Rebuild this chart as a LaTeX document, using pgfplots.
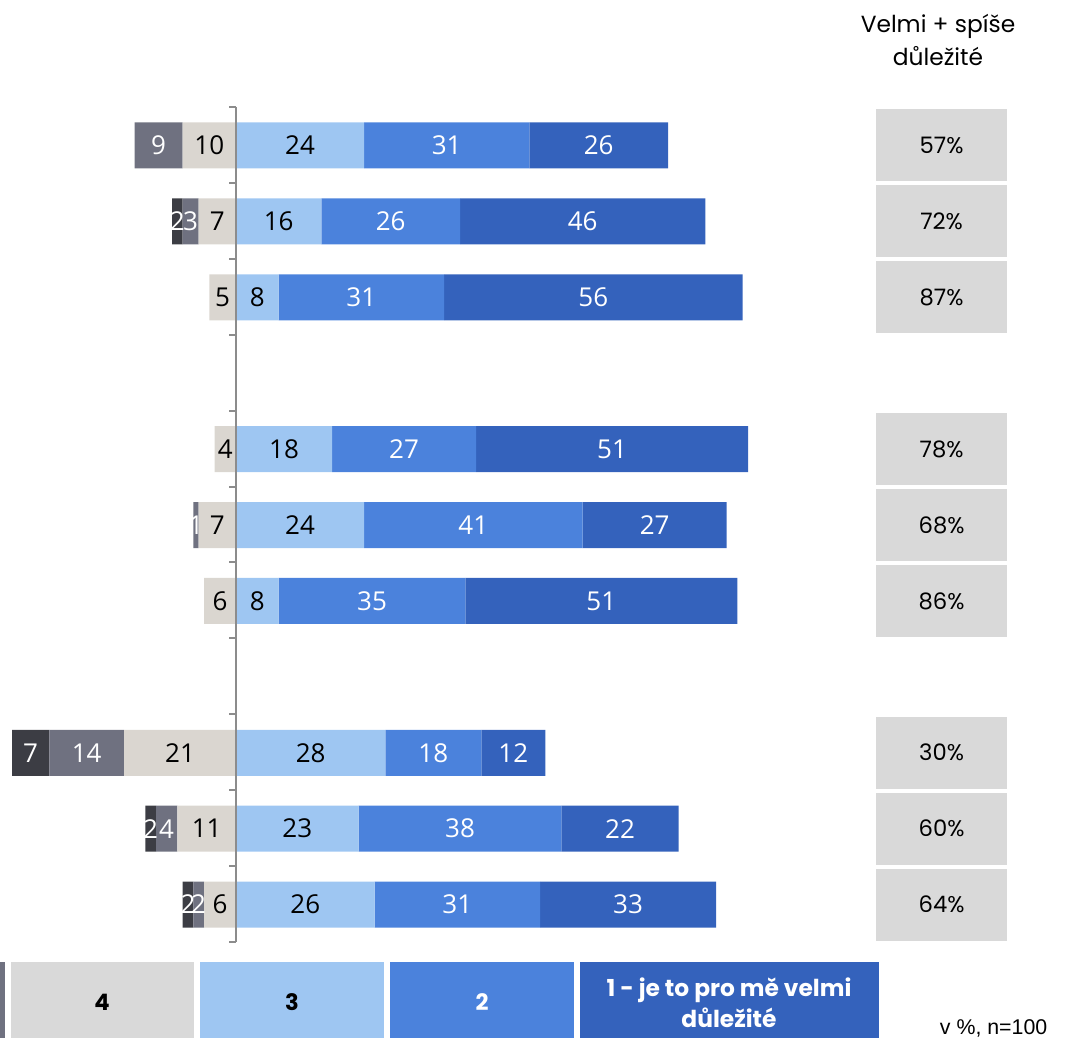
\documentclass[border=0pt]{standalone}
\usepackage{pgfplots}
\pgfplotsset{compat=1.18}
\usepackage{pgfplotstable}
\usepackage{fontspec}
\setmainfont{Poppins}
\newfontfamily\barfont{Open Sans}
\newfontfamily\pop{Poppins}
\newfontfamily\arialf{Liberation Sans}

\definecolor{cD6}{HTML}{3C3D44}
\definecolor{cD5}{HTML}{6F7180}
\definecolor{cD4}{HTML}{DAD6D0}
\definecolor{cC3}{HTML}{9EC6F2}
\definecolor{cC2}{HTML}{4B82DC}
\definecolor{cC1}{HTML}{3462BC}
\definecolor{boxgray}{HTML}{D9D9D9}
\definecolor{axisgray}{HTML}{8C8C8C}

\pgfplotstableread{
y  d6 d5 d4 c3 c2 c1 pct
0  0  9  10 24 31 26 57
1  2  3  7  16 26 46 72
2  0  0  5  8  31 56 87
4  0  0  4  18 27 51 78
5  0  1  7  24 41 27 68
6  0  0  6  8  35 51 86
8  7  14 21 28 18 12 30
9  2  4  11 23 38 22 60
10 2  2  6  26 31 33 64
}\data

\pgfplotsset{
  /pgf/number format/assume math mode=true,
  base/.style={scale only axis, width=577pt, height=626.25pt,
    xmin=-44.25, xmax=100, ymin=-10.5, ymax=0.5,
    axis lines=none, clip=false, at={(0pt,-706.9pt)}, anchor=south west},
  seg/.style n args={3}{fill=#2, draw=none, bar width=34.5pt,
    visualization depends on={\thisrow{#1} \as \val},
    nodes near coords={\ifdim \val pt>0pt\pgfmathprintnumber{\val}\fi},
    every node near coord/.append style={anchor=center, text=#3, inner sep=0pt,
      font=\barfont\fontsize{19.5}{19.5}\selectfont}},
}

\begin{document}
\begin{tikzpicture}[x=0.75pt, y=-0.75pt]
\path[use as bounding box] (0,0) rectangle (1079,1038);

% negative side
\begin{axis}[base, xbar stacked]
\addplot[seg={d4}{cD4}{black}] table[x expr=-\thisrow{d4}, y expr=-\thisrow{y}]{\data};
\addplot[seg={d5}{cD5}{white}] table[x expr=-\thisrow{d5}, y expr=-\thisrow{y}]{\data};
\addplot[seg={d6}{cD6}{white}] table[x expr=-\thisrow{d6}, y expr=-\thisrow{y}]{\data};
\end{axis}

% positive side
\begin{axis}[base, xbar stacked]
\addplot[seg={c3}{cC3}{black}] table[x=c3, y expr=-\thisrow{y}]{\data};
\addplot[seg={c2}{cC2}{white}] table[x=c2, y expr=-\thisrow{y}]{\data};
\addplot[seg={c1}{cC1}{white}] table[x=c1, y expr=-\thisrow{y}]{\data};
\end{axis}

% percentage boxes
\begin{axis}[base]
\addplot[draw=none, mark=none, point meta=explicit,
  nodes near coords={\pgfmathprintnumber{\pgfplotspointmeta}\%},
  every node near coord/.style={anchor=center, fill=boxgray, minimum width=98.25pt,
    minimum height=54pt, inner sep=0pt, text=black, font=\pop\fontsize{17}{17}\selectfont}]
  table[x expr=132.3, y expr=-\thisrow{y}, meta=pct]{\data};
\end{axis}

% vertical axis line with ticks
\draw[axisgray, line width=1.5] (236,107) -- (236,942);
\foreach \t in {0,...,11} {
  \draw[axisgray, line width=1.5] (229,107+75.9*\t) -- (236,107+75.9*\t);
}

% header
\node[font=\pop\fontsize{17.5}{24.5}\selectfont, align=center, anchor=center] at (938,40)
  {Velmi + spíše\\důležité};

% legend
\fill[cD5] (0,962) rectangle (5,1040);
\fill[boxgray] (11,962) rectangle (194,1040);
\fill[cC3] (200,962) rectangle (384,1040);
\fill[cC2] (390,962) rectangle (574,1040);
\fill[cC1] (580,962) rectangle (879,1040);
\node[font=\pop\bfseries\fontsize{17}{17}\selectfont] at (102,1002) {4};
\node[font=\pop\bfseries\fontsize{17}{17}\selectfont] at (292,1002) {3};
\node[font=\pop\bfseries\fontsize{17}{17}\selectfont, text=white] at (482,1002) {2};
\node[font=\pop\bfseries\fontsize{17.5}{23}\selectfont, text=white, align=center] at (729,1003)
  {1 - je to pro mě velmi\\důležité};
\node[font=\arialf\fontsize{16}{16}\selectfont, anchor=base east] at (1052,1034) {v \%, n=100};
\end{tikzpicture}
\end{document}
